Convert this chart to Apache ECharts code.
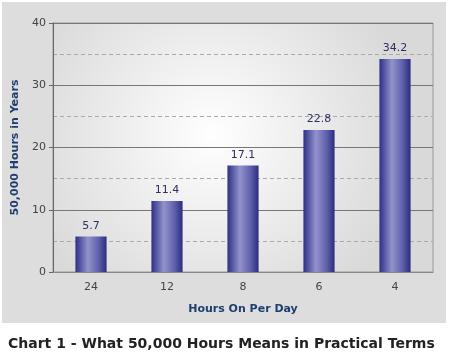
<!DOCTYPE html>
<html><head><meta charset="utf-8">
<script src="https://cdn.jsdelivr.net/npm/echarts@6/dist/echarts.min.js"></script>
<style>html,body{margin:0;padding:0;background:#fff}#c{width:450px;height:359px}</style>
</head><body><div id="c"></div>
<script>
var categories = ['24', '12', '8', '6', '4'];
var values = [5.7, 11.4, 17.1, 22.8, 34.2];
var yTicks = [0, 10, 20, 30, 40];

var chart = echarts.init(document.getElementById('c'), null, {renderer: 'canvas'});
var barColor = new echarts.graphic.LinearGradient(0, 0, 1, 0, [
  {offset: 0, color: '#2e3086'},
  {offset: 0.4, color: '#9292cc'},
  {offset: 0.75, color: '#5e5fab'},
  {offset: 1, color: '#2a2c7e'}
]);
chart.setOption({
  animation: false,
  graphic: [
    {type: 'rect', z: -10, shape: {x: 2, y: 2, width: 444, height: 321},
     style: {fill: '#dddddd'}},
    {type: 'text', left: 8, top: 337,
     style: {text: 'Chart 1 - What 50,000 Hours Means in Practical Terms',
       font: 'bold 14px "DejaVu Sans", Verdana, sans-serif', fill: '#222'}}
  ],
  grid: {left: 53, right: 17, top: 23, bottom: 87, show: true,
    borderColor: '#999', borderWidth: 1,
    backgroundColor: new echarts.graphic.RadialGradient(0.42, 0.45, 0.8, [
      {offset: 0, color: '#ffffff'},
      {offset: 1, color: '#d9d9d9'}
    ])},
  xAxis: {
    type: 'category', data: categories,
    name: 'Hours On Per Day', nameLocation: 'middle', nameGap: 32,
    nameTextStyle: {color: '#1d3e6e', fontWeight: 'bold', fontSize: 11, fontFamily: '"DejaVu Sans", Verdana, sans-serif'},
    axisLine: {lineStyle: {color: '#888'}},
    axisTick: {show: false},
    axisLabel: {color: '#444', fontSize: 11, margin: 10, fontFamily: '"DejaVu Sans", Verdana, sans-serif'}
  },
  yAxis: {
    type: 'value', min: 0, max: 40, interval: 10,
    name: '50,000 Hours in Years', nameLocation: 'middle', nameGap: 31,
    nameTextStyle: {color: '#1d3e6e', fontWeight: 'bold', fontSize: 11, fontFamily: '"DejaVu Sans", Verdana, sans-serif'},
    axisLine: {show: true, lineStyle: {color: '#666'}},
    axisTick: {show: true, length: 4, lineStyle: {color: '#666'}},
    axisLabel: {color: '#444', fontSize: 11, margin: 7, fontFamily: '"DejaVu Sans", Verdana, sans-serif',
      formatter: function (v) { return yTicks.indexOf(v) >= 0 ? String(v) : ''; }},
    splitLine: {lineStyle: {color: '#777', width: 1}},
    minorTick: {show: false, splitNumber: 2},
    minorSplitLine: {show: true, lineStyle: {color: '#aaa', type: [4, 3], width: 1}}
  },
  series: [{
    type: 'bar', data: values, barWidth: '41%',
    itemStyle: {color: barColor},
    label: {show: true, position: 'top', distance: 5, color: '#2e3060', fontSize: 11,
      fontFamily: '"DejaVu Sans", Verdana, sans-serif'}
  }]
});
</script></body></html>
